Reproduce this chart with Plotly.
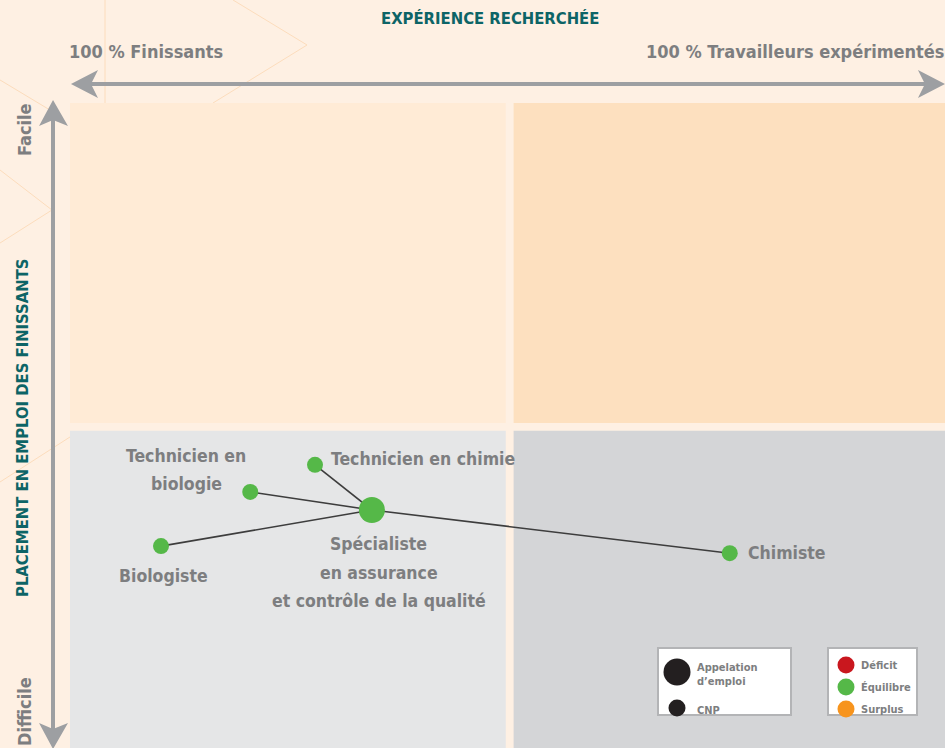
import plotly.graph_objects as go

# --- data -------------------------------------------------------------
# x: 0 = 100 % finissants, 100 = 100 % travailleurs expérimentés
# y: 0 = placement difficile, 100 = placement facile
jobs = ["Spécialiste<br>en assurance<br>et contrôle de la qualité",
        "Biologiste", "Technicien en<br>biologie", "Technicien en chimie", "Chimiste"]
exp_x = [34.5, 10.4, 20.6, 28.0, 75.4]
place_y = [36.9, 31.3, 39.7, 43.9, 30.2]
kind = ["appellation", "cnp", "cnp", "cnp", "cnp"]
status = ["Équilibre"] * 5

status_colors = {"Déficit": "#c9171e", "Équilibre": "#55b848", "Surplus": "#f7941d"}

W, H = 945, 748
L, T = 70, 103
PW, PH = W - L, H - T

FONT = "DejaVu Sans Condensed, Liberation Sans Narrow, sans-serif"
GRAY_TXT = "#7d7e80"
TEAL = "#0d6466"
ARROW = "#9d9fa2"
BG = "#fef0e3"


def px(x):
    return (x - L) / PW


def py(y):
    return (H - y) / PH


def path(points):
    return "M " + " L ".join(f"{px(a):.4f},{py(b):.4f}" for a, b in points) + " Z"


fig = go.Figure()

# links from the appellation to each CNP
center = kind.index("appellation")
lx, ly = [], []
for i in range(len(jobs)):
    if i == center:
        continue
    lx += [exp_x[center], exp_x[i], None]
    ly += [place_y[center], place_y[i], None]
fig.add_trace(go.Scatter(x=lx, y=ly, mode="lines",
                         line=dict(color="#3d3d3d", width=1.6),
                         hoverinfo="skip", showlegend=False))

fig.add_trace(go.Scatter(
    x=exp_x, y=place_y, mode="markers",
    marker=dict(size=[26 if k == "appellation" else 16 for k in kind],
                color=[status_colors[s] for s in status], opacity=1, line=dict(width=0)),
    text=jobs, hoverinfo="text", showlegend=False))

# point labels: anchor, shift of the first line, line spacing 28.5 px
label_pos = {
    0: dict(xanchor="center", xshift=7, yshift=-34),
    1: dict(xanchor="center", xshift=2, yshift=-30),
    2: dict(xanchor="center", xshift=-64, yshift=36),
    3: dict(xanchor="left", xshift=14, yshift=6),
    4: dict(xanchor="left", xshift=16, yshift=0),
}
for i, name in enumerate(jobs):
    pos = label_pos[i]
    for k, line in enumerate(name.split("<br>")):
        fig.add_annotation(x=exp_x[i], y=place_y[i], text=line, showarrow=False,
                           xanchor=pos["xanchor"], yanchor="middle",
                           xshift=pos["xshift"], yshift=pos["yshift"] - 28.5 * k,
                           font=dict(family=FONT, size=17.5, color=GRAY_TXT, weight="bold"))

shapes = []
# quadrants
quads = [((0, 49.8), (50.4, 100), "#ffebd6"), ((50.7, 100), (50.4, 100), "#fde0bf"),
         ((0, 49.8), (0, 49.2), "#e5e6e7"), ((50.7, 100), (0, 49.2), "#d4d5d7")]
for (x0, x1), (y0, y1), c in quads:
    shapes.append(dict(type="rect", xref="x", yref="y", x0=x0, x1=x1, y0=y0, y1=y1,
                       fillcolor=c, line=dict(width=0), layer="below"))

# faint decorative lines in the background
deco = [[(105, 0), (105, 103)], [(233, 0), (307, 45), (213, 103)],
        [(0, 80), (50, 110)], [(0, 170), (52, 210), (0, 243)],
        [(0, 482), (70, 437)]]
for seg in deco:
    d = "M " + " L ".join(f"{px(a):.4f},{py(b):.4f}" for a, b in seg)
    shapes.append(dict(type="path", xref="paper", yref="paper", path=d,
                       line=dict(color="#fcdcbc", width=1), layer="below"))

# axis arrows
shapes.append(dict(type="line", xref="paper", yref="paper", x0=px(88), x1=px(928),
                   y0=py(84), y1=py(84), line=dict(color=ARROW, width=4)))
shapes.append(dict(type="path", xref="paper", yref="paper",
                   path=path([(71, 84), (98, 70), (91, 84), (98, 98)]),
                   fillcolor=ARROW, line=dict(width=0)))
shapes.append(dict(type="path", xref="paper", yref="paper",
                   path=path([(945, 84), (918, 70), (925, 84), (918, 98)]),
                   fillcolor=ARROW, line=dict(width=0)))
shapes.append(dict(type="line", xref="paper", yref="paper", x0=px(53), x1=px(53),
                   y0=py(118), y1=py(732), line=dict(color=ARROW, width=4)))
shapes.append(dict(type="path", xref="paper", yref="paper",
                   path=path([(53, 100), (39, 126), (53, 120), (68, 126)]),
                   fillcolor=ARROW, line=dict(width=0)))
shapes.append(dict(type="path", xref="paper", yref="paper",
                   path=path([(53, 749), (39, 723), (53, 729), (68, 723)]),
                   fillcolor=ARROW, line=dict(width=0)))

# legend boxes
for x0, x1 in [(658, 791), (828, 917)]:
    shapes.append(dict(type="rect", xref="paper", yref="paper", x0=px(x0), x1=px(x1),
                       y0=py(715), y1=py(648), fillcolor="white",
                       line=dict(color="#b3b4b6", width=2)))


def circle(cx, cy, r, color):
    return dict(type="circle", xref="paper", yref="paper", x0=px(cx - r), x1=px(cx + r),
                y0=py(cy + r), y1=py(cy - r), fillcolor=color, line=dict(width=0))


shapes.append(circle(677, 672, 13.5, "#231f20"))
shapes.append(circle(677, 708, 8.5, "#231f20"))
legend_status = ["Déficit", "Équilibre", "Surplus"]
for j, s in enumerate(legend_status):
    shapes.append(circle(846, 665 + 22 * j, 8.5, status_colors[s]))

fig.update_layout(shapes=shapes)


def txt(x, y, s, size, color, xanchor="left", angle=0):
    fig.add_annotation(xref="paper", yref="paper", x=px(x), y=py(y), text=s,
                       showarrow=False, xanchor=xanchor, yanchor="middle",
                       textangle=angle, align="left",
                       font=dict(family=FONT, size=size, color=color, weight="bold"))


txt(695, 674, "Appelation<br>d’emploi", 11, GRAY_TXT)
txt(695, 710, "CNP", 11, GRAY_TXT)
for j, s in enumerate(legend_status):
    txt(859, 665 + 22 * j, s, 11, GRAY_TXT)

txt(490, 19, "EXPÉRIENCE RECHERCHÉE", 16.5, TEAL, xanchor="center")
txt(67, 52, "100 % Finissants", 18, GRAY_TXT)
txt(947, 52, "100 % Travailleurs expérimentés", 18, GRAY_TXT, xanchor="right")
txt(24, 130, "Facile", 18, GRAY_TXT, xanchor="center", angle=-90)
txt(24, 712, "Difficile", 18, GRAY_TXT, xanchor="center", angle=-90)
txt(22, 428, "PLACEMENT EN EMPLOI DES FINISSANTS", 16.5, TEAL, xanchor="center", angle=-90)

fig.update_layout(
    width=W, height=H, autosize=False,
    margin=dict(l=L, r=0, t=T, b=0),
    paper_bgcolor=BG, plot_bgcolor=BG,
    xaxis=dict(range=[0, 100], visible=False, fixedrange=True),
    yaxis=dict(range=[0, 100], visible=False, fixedrange=True),
    showlegend=False,
)

fig.write_html("out.html", config={"displayModeBar": False},
               post_script="document.body.style.margin='0';document.body.style.padding='0';")
